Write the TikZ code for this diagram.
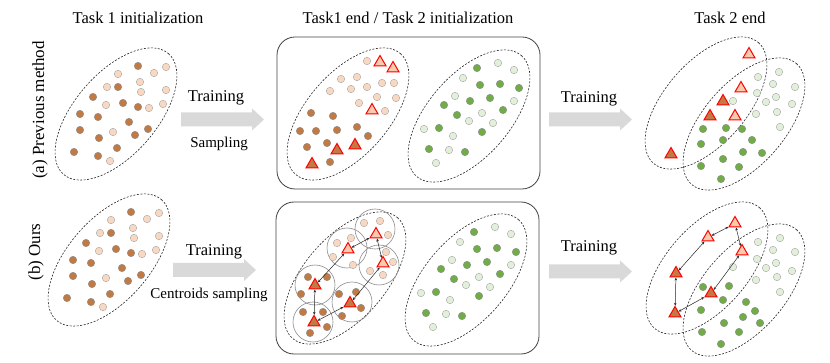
\documentclass[tikz,border=0pt]{standalone}
\usepackage{fontspec}
\setmainfont{Liberation Serif}
\usetikzlibrary{shapes.geometric, arrows.meta, positioning, calc}
\definecolor{darkFill}{HTML}{C27A45}
\definecolor{lightFill}{HTML}{F9D8C2}
\definecolor{triLight}{HTML}{F8CBAD}
\definecolor{greenFill}{HTML}{70AD47}
\definecolor{paleFill}{HTML}{E2F0D9}
\definecolor{triStroke}{HTML}{FF0000}
\definecolor{arrowFill}{HTML}{D9D9D9}

% task 1 points (old classes)
\newcommand{\taskonedots}{%
    \draw[group] (116,114) ellipse[x radius=80, y radius=41, rotate=49];
    \foreach \x/\y in {138/66,118/87,93/97,123/103,138/107,80/114,98/117,129/122,
        148/129,80/130,135/135,99/138,117/148,74/152,98/156}
        \node[dotd] at (\x,\y) {};
    \foreach \x/\y in {166/67,154/73,118/74,140/82,107/87,166/90,141/92,106/105,
        149/108,163/104,113/132,110/161}
        \node[dotl] at (\x,\y) {};
}
% task 2 points (new classes)
\newcommand{\tasktwodots}{%
    \draw[group] (469,116) ellipse[x radius=80, y radius=41, rotate=49];
    \foreach \x/\y in {477/68,480/85,500/84,519/88,444/105,470/101,490/98,457/115,
        503/110,439/128,482/132,429/149,465/152}
        \node[dotg] at (\x,\y) {};
    \foreach \x/\y in {498/63,514/70,463/78,455/96,514/101,482/113,469/121,493/123,
        424/129,453/136,449/150,436/163}
        \node[dotp] at (\x,\y) {};
}

\begin{document}
\begin{tikzpicture}[
    x=1pt, y=-1pt,
    font=\fontsize{16.5}{18}\selectfont,
    dot/.style={circle, inner sep=0pt, minimum size=7.5pt, line width=0.4pt},
    dotd/.style={dot, draw=black!45, fill=darkFill},
    dotl/.style={dot, draw=black!35, fill=lightFill},
    dotg/.style={dot, draw=black!45, fill=greenFill},
    dotp/.style={dot, draw=black!35, fill=paleFill},
    group/.style={draw=black!85, line width=0.6pt, dash pattern=on 2pt off 1.5pt},
    panel/.style={draw=black!75, line width=0.8pt, rounded corners=18pt},
    ring/.style={draw=black!45, line width=0.6pt},
    tri/.style={
        regular polygon, regular polygon sides=3,
        draw=triStroke, line width=1pt,
        inner sep=0pt, minimum size=14pt, yshift=-1.5pt
    },
    trid/.style={tri, fill=darkFill},
    tril/.style={tri, fill=triLight},
    link/.style={{Stealth[length=3pt,width=2.5pt]}-{Stealth[length=3pt,width=2.5pt]},
        draw=black!85, line width=0.5pt},
    label/.style={inner sep=1pt},
    small/.style={label, font=\fontsize{15}{17}\selectfont},
    bigarrow/.pic={
        \fill[arrowFill] (0,-7) -- (71,-7) -- (71,-11) -- (83,0)
            -- (71,11) -- (71,7) -- (0,7) -- cycle;
    }
]
    \useasboundingbox (0,0) rectangle (830,363);

    % column titles
    \node[label] (title1) at (138,18) {Task 1 initialization};
    \node[label] (title2) at (408,18) {Task1 end / Task 2 initialization};
    \node[label] (title3) at (730,18) {Task 2 end};

    % row titles
    \node[label, rotate=90, font=\fontsize{17}{19}\selectfont] (rowa) at (40,110) {(a) Previous method};
    \node[label, rotate=90, font=\fontsize{17}{19}\selectfont] (rowb) at (36,252) {(b) Ours};

    % ---- (a) previous method ----
    \taskonedots

    \pic at (181,119.5) {bigarrow};
    \node[label] (traina) at (216,98) {Training};
    \node[small] (sampa) at (219,144) {Sampling};

    \draw[panel] (277,37) rectangle (540,189);
    \draw[group] (348,114) ellipse[x radius=80, y radius=41, rotate=49];
    \foreach \x/\y in {367/61,341/79,357/77,382/83,394/83,367/87,330/91,351/89,
        377/97,396/98,359/103,385/111}
        \node[dotl] at (\x,\y) {};
    \foreach \x/\y in {311/113,333/116,300/131,316/131,337/130,357/127,368/136,
        307/147,327/143,330/162}
        \node[dotd] at (\x,\y) {};
    \node[tril] (a1) at (380,61) {};
    \node[tril] (a2) at (393,67) {};
    \node[tril] (a3) at (372,109) {};
    \node[trid] (a4) at (337,149) {};
    \node[trid] (a5) at (355,144) {};
    \node[trid] (a6) at (312,163) {};
    \tasktwodots

    \pic at (549,119.5) {bigarrow};
    \node[label] (trainb) at (589,99) {Training};

    \draw[group] (706,103) ellipse[x radius=80, y radius=41, rotate=49];
    \draw[group] (744,124) ellipse[x radius=80, y radius=41, rotate=49];
    \foreach \x/\y in {758/77,779/72,773/84,795/87,757/93,776/97,766/102,792/104,
        733/101,756/114,777/112,780/127}
        \node[dotp] at (\x,\y) {};
    \foreach \x/\y in {703/129,726/128,742/129,701/144,723/140,752/140,743/152,
        762/153,723/159,701/166,739/167,721/179}
        \node[dotg] at (\x,\y) {};
    \node[tril] (b1) at (749,53) {};
    \node[tril] (b2) at (741,87) {};
    \node[tril] (b3) at (735,115) {};
    \node[trid] (b4) at (723,100) {};
    \node[trid] (b5) at (710,115) {};
    \node[trid] (b6) at (671,153) {};

    % ---- (b) ours ----
    \begin{scope}[shift={(-7,146)}]
        \taskonedots
    \end{scope}

    \pic at (173,270) {bigarrow};
    \node[label] (trainc) at (214,252) {Training};
    \node[small] (cents) at (209,295) {Centroids sampling};

    \draw[panel] (276,202) rectangle (539,354);
    \draw[group] (345,278) ellipse[x radius=80, y radius=41, rotate=49];
    \foreach \x/\y in {375/229,347/248,379/265,315/285,352/302,313/322}
        \draw[ring] (\x,\y) circle[radius=20];
    \foreach \x/\y in {364/223,380/221,388/235,337/243,351/238,333/257,353/265,
        386/252,393/262,370/271,383/275}
        \node[dotl] at (\x,\y) {};
    \foreach \x/\y in {308/277,327/277,301/294,339/294,356/292,303/312,323/312,
        342/316,361/308,327/327,310/333}
        \node[dotd] at (\x,\y) {};
    \node[trid] (c1) at (315,284) {};
    \node[tril] (c2) at (348,248) {};
    \node[tril] (c3) at (376,233) {};
    \node[tril] (c4) at (383,262) {};
    \node[trid] (c5) at (350,302) {};
    \node[trid] (c6) at (314,321) {};
    \draw[link] (c1) -- (c2);
    \draw[link] (c2) -- (c3);
    \draw[link] (c3) -- (c4);
    \draw[link] (c4) -- (c5);
    \draw[link] (c5) -- (c6);
    \draw[link] (c6) -- (c1);
    \begin{scope}[shift={(-3,164)}]
        \tasktwodots
    \end{scope}

    \pic at (549,271.5) {bigarrow};
    \node[label] (traind) at (589,248) {Training};

    \draw[group] (707,268) ellipse[x radius=80, y radius=41, rotate=49];
    \draw[group] (744,290) ellipse[x radius=80, y radius=41, rotate=49];
    \foreach \x/\y in {780/238,758/242,773/250,795/252,757/259,776/263,766/268,
        792/271,733/267,756/280,777/277,780/292}
        \node[dotp] at (\x,\y) {};
    \foreach \x/\y in {703/287,729/286,723/300,746/302,701/310,755/311,743/317,
        724/323,760/323,702/332,739/332,721/344}
        \node[dotg] at (\x,\y) {};
    \node[trid] (d1) at (676,272) {};
    \node[tril] (d2) at (708,236) {};
    \node[tril] (d3) at (735,222) {};
    \node[tril] (d4) at (742,250) {};
    \node[trid] (d5) at (711,292) {};
    \node[trid] (d6) at (675,312) {};
    \draw[link] (d1) -- (d2);
    \draw[link] (d2) -- (d3);
    \draw[link] (d3) -- (d4);
    \draw[link] (d4) -- (d5);
    \draw[link] (d5) -- (d6);
    \draw[link] (d6) -- (d1);
\end{tikzpicture}
\end{document}
